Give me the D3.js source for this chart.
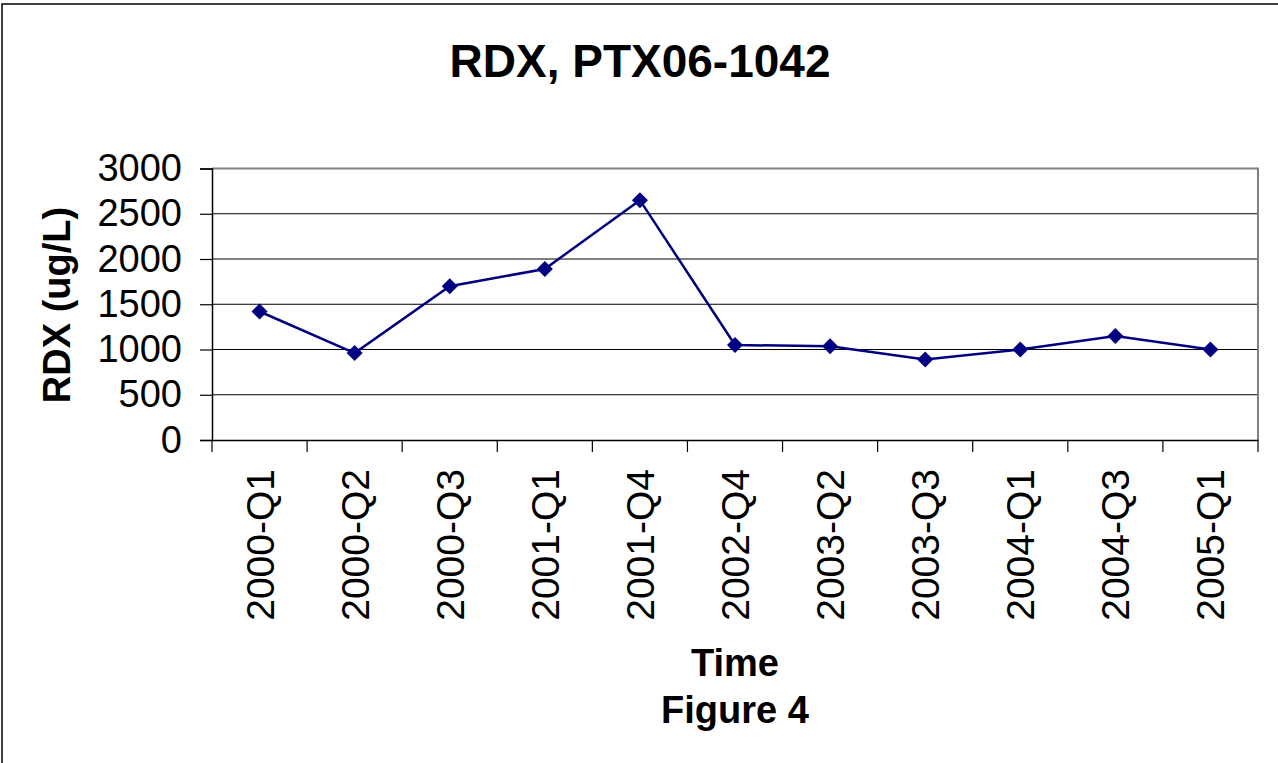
<!DOCTYPE html>
<html>
<head>
<meta charset="utf-8">
<script src="https://cdn.jsdelivr.net/npm/d3@7"></script>
<style>
  html, body { margin: 0; padding: 0; background: #fff; }
  svg { display: block; font-family: "Liberation Sans", Arial, sans-serif; }
</style>
</head>
<body>
<svg id="chart" width="1278" height="763"></svg>
<script>
const categories = ["2000-Q1","2000-Q2","2000-Q3","2001-Q1","2001-Q4","2002-Q4","2003-Q2","2003-Q3","2004-Q1","2004-Q3","2005-Q1"];
const rdxValues = [1420, 960, 1700, 1890, 2650, 1050, 1035, 890, 1000, 1150, 1000];
const yTicks = [0, 500, 1000, 1500, 2000, 2500, 3000];
const titleText = "RDX, PTX06-1042";
const yTitle = "RDX (ug/L)";
const xTitle = "Time";
const caption = "Figure 4";

const svg = d3.select("#chart");
const plot = { left: 212, right: 1258, top: 168.5, bottom: 440 };

// outer frame
svg.append("rect").attr("x", 2).attr("y", 4).attr("width", 1290).attr("height", 790)
  .attr("fill", "none").attr("stroke", "#000").attr("stroke-width", 1.5);

const x = d3.scaleBand().domain(categories).range([plot.left, plot.right]).paddingInner(0).paddingOuter(0);
const y = d3.scaleLinear().domain([0, 3000]).range([plot.bottom, plot.top]);

// gridlines
svg.append("g").selectAll("line").data(yTicks.filter(d => d > 0 && d < 3000)).join("line")
  .attr("x1", plot.left).attr("x2", plot.right)
  .attr("y1", d => y(d)).attr("y2", d => y(d))
  .attr("stroke", "#000").attr("stroke-width", 1);

// plot area border (top & right) grey
svg.append("path")
  .attr("d", `M${plot.left},${y(3000)}H${plot.right}V${plot.bottom}`)
  .attr("fill", "none").attr("stroke", "#808080").attr("stroke-width", 2);

// y axis
const yAxis = d3.axisLeft(y).tickValues(yTicks).tickSize(12).tickPadding(18).tickFormat(d3.format("d"));
const gy = svg.append("g").attr("transform", `translate(${plot.left},0)`).call(yAxis);
gy.select(".domain").attr("stroke", "#000").attr("stroke-width", 1.5);
gy.selectAll(".tick line").attr("stroke", "#000").attr("stroke-width", 1.2);
gy.selectAll(".tick text").attr("font-size", 38).attr("fill", "#000")
  .attr("font-family", "Liberation Sans, Arial, sans-serif");

// x axis
const xAxis = d3.axisBottom(x).tickSize(0).tickPadding(0);
const gx = svg.append("g").attr("transform", `translate(0,${plot.bottom})`).call(xAxis);
gx.select(".domain").attr("stroke", "#000").attr("stroke-width", 1.5);
gx.selectAll(".tick text")
  .attr("font-size", 39).attr("fill", "#000")
  .attr("font-family", "Liberation Sans, Arial, sans-serif")
  .attr("text-anchor", "end")
  .attr("dy", null)
  .attr("transform", "translate(14,29) rotate(-90)")
  .attr("x", 0).attr("y", 0);

// x tick marks at category boundaries
const bounds = categories.map(c => x(c)).concat([plot.right]);
svg.append("g").selectAll("line").data(bounds).join("line")
  .attr("x1", d => d).attr("x2", d => d)
  .attr("y1", plot.bottom).attr("y2", plot.bottom + 12)
  .attr("stroke", "#000").attr("stroke-width", 1.2);

// line
const line = d3.line().x((d, i) => x(categories[i]) + x.bandwidth() / 2).y(d => y(d));
svg.append("path").datum(rdxValues).attr("d", line)
  .attr("fill", "none").attr("stroke", "#000080").attr("stroke-width", 2.5);

// markers
svg.append("g").selectAll("path").data(rdxValues).join("path")
  .attr("d", "M0,-8L8,0L0,8L-8,0Z")
  .attr("transform", (d, i) => `translate(${x(categories[i]) + x.bandwidth() / 2},${y(d)})`)
  .attr("fill", "#000080");

// titles
svg.append("text").attr("x", 640).attr("y", 77).attr("text-anchor", "middle")
  .attr("font-size", 46).attr("font-weight", "bold").text(titleText);

svg.append("text").attr("transform", `translate(70,305) rotate(-90)`).attr("text-anchor", "middle")
  .attr("font-size", 38).attr("font-weight", "bold").text(yTitle);

const cx = (plot.left + plot.right) / 2;
svg.append("text").attr("x", cx).attr("y", 676).attr("text-anchor", "middle")
  .attr("font-size", 38).attr("font-weight", "bold").text(xTitle);
svg.append("text").attr("x", cx).attr("y", 723).attr("text-anchor", "middle")
  .attr("font-size", 38).attr("font-weight", "bold").text(caption);
</script>
</body>
</html>
